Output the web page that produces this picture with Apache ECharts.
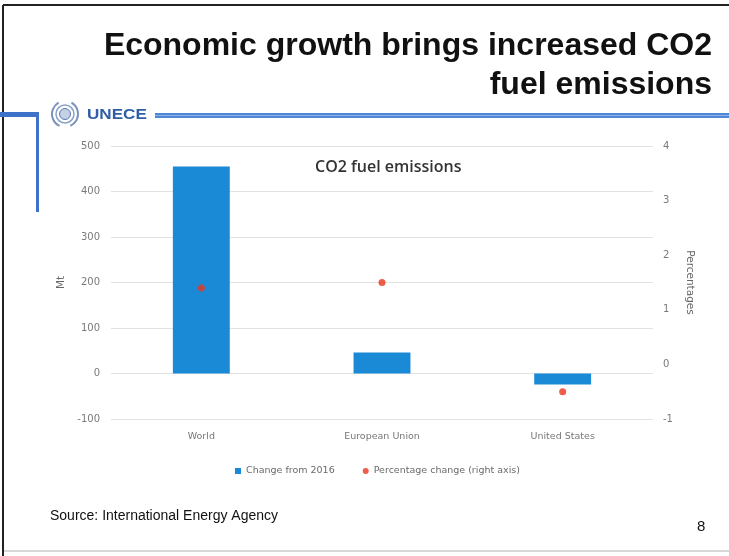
<!DOCTYPE html>
<html><head><meta charset="utf-8">
<script src="https://cdn.jsdelivr.net/npm/echarts@6/dist/echarts.min.js"></script>
<style>html,body{margin:0;padding:0;background:#fff}#c{width:729px;height:556px}</style>
</head><body><div id="c"></div>
<script>
const categories = ['World', 'European Union', 'United States'];
const changeFrom2016 = [455, 46, -24];
const percentageChange = [1.4, 1.5, -0.5];
const leftTicks = {min: -100, max: 500, interval: 100};
const rightTicks = {min: -1, max: 4, interval: 1};

const chart = echarts.init(document.getElementById('c'), null, {renderer: 'canvas'});
const F = '"DejaVu Sans", sans-serif';
chart.setOption({
  backgroundColor: '#fff',
  animation: false,
  grid: {left: 111, right: 76, top: 146, bottom: 137},
  legend: {
    left: 230, top: 461, itemWidth: 6, itemHeight: 6, itemGap: 28,
    textStyle: {fontSize: 9.5, color: '#6a6a6a', fontFamily: F},
    data: [{name: 'Change from 2016', icon: 'rect'}, {name: 'Percentage change (right axis)', icon: 'circle'}]
  },
  xAxis: {
    type: 'category', data: categories,
    axisLine: {show: false}, axisTick: {show: false},
    axisLabel: {fontSize: 9.5, color: '#777', fontFamily: F, margin: 13}
  },
  yAxis: [{
    type: 'value', min: leftTicks.min, max: leftTicks.max, interval: leftTicks.interval,
    name: 'Mt', nameLocation: 'middle', nameGap: 30, nameRotate: 90,
    nameTextStyle: {fontSize: 10.5, color: '#666', fontFamily: F},
    axisLine: {show: false}, axisTick: {show: false},
    axisLabel: {fontSize: 10, color: '#7a7a7a', fontFamily: F, margin: 11},
    splitLine: {lineStyle: {color: '#e2e2e2', width: 1}}
  }, {
    type: 'value', min: rightTicks.min, max: rightTicks.max, interval: rightTicks.interval,
    name: 'Percentages', nameLocation: 'middle', nameGap: 22, nameRotate: -90,
    nameTextStyle: {fontSize: 10.5, color: '#666', fontFamily: F},
    axisLine: {show: false}, axisTick: {show: false},
    axisLabel: {fontSize: 10, color: '#7a7a7a', fontFamily: F, margin: 10},
    splitLine: {show: false}
  }],
  series: [{
    name: 'Change from 2016', type: 'bar', data: changeFrom2016, yAxisIndex: 0,
    barWidth: '31.5%', itemStyle: {color: '#1b8ad6'}
  }, {
    name: 'Percentage change (right axis)', type: 'scatter', data: percentageChange, yAxisIndex: 1,
    symbolSize: 7, itemStyle: {color: '#e8341c'}, z: 5
  }],
  graphic: [
    // slide frame
    {type: 'line', shape: {x1: 3, y1: 5, x2: 729, y2: 5}, style: {stroke: '#222', lineWidth: 2}, silent: true},
    {type: 'line', shape: {x1: 3, y1: 5, x2: 3, y2: 556}, style: {stroke: '#222', lineWidth: 2}, silent: true},
    {type: 'line', shape: {x1: 4, y1: 551, x2: 729, y2: 551}, style: {stroke: '#d8d8d8', lineWidth: 2}, silent: true},
    // slide title
    {type: 'text', right: 17, top: 30, style: {text: 'Economic growth brings increased CO2', font: 'bold 32px "Liberation Sans", Arial, sans-serif', fill: '#111'}},
    {type: 'text', right: 17, top: 69, style: {text: 'fuel emissions', font: 'bold 32px "Liberation Sans", Arial, sans-serif', fill: '#111'}},
    // blue band and logo
    {type: 'rect', shape: {x: 0, y: 112, width: 39, height: 5}, style: {fill: '#3e72c8'}, silent: true},
    {type: 'rect', shape: {x: 36, y: 112, width: 3, height: 100}, style: {fill: '#3e72c8'}, silent: true},
    {type: 'rect', shape: {x: 155, y: 113, width: 574, height: 5}, style: {fill: '#4f86d6'}, silent: true},
    {type: 'line', shape: {x1: 155, y1: 115.5, x2: 729, y2: 115.5}, style: {stroke: '#8fb4ea', lineWidth: 1}, silent: true},
    {type: 'circle', shape: {cx: 65, cy: 114, r: 9}, style: {fill: '#fff', stroke: '#8aa2c8', lineWidth: 1.5}},
    {type: 'circle', shape: {cx: 65, cy: 114, r: 5.5}, style: {fill: '#c3d0e6', stroke: '#5a7ab0', lineWidth: 1}},
    {type: 'arc', shape: {cx: 65, cy: 114, r: 13, startAngle: 2.0, endAngle: 4.2}, style: {stroke: '#7b93bf', lineWidth: 2, fill: null}},
    {type: 'arc', shape: {cx: 65, cy: 114, r: 13, startAngle: -1.05, endAngle: 1.15}, style: {stroke: '#7b93bf', lineWidth: 2, fill: null}},
    {type: 'text', x: 87, y: 115, scaleX: 1.22, style: {text: 'UNECE', font: 'bold 14px "Liberation Sans", Arial, sans-serif', fill: '#2f5ea8', textVerticalAlign: 'middle'}},
    // chart title
    {type: 'text', left: 315, top: 159, style: {text: 'CO2 fuel emissions', font: '600 16px "Open Sans", sans-serif', fill: '#333'}},
    // footer
    {type: 'text', left: 50, top: 509, style: {text: 'Source: International Energy Agency', font: '14px "Liberation Sans", Arial, sans-serif', fill: '#111'}},
    {type: 'text', left: 697, top: 519, style: {text: '8', font: '15px "Liberation Sans", Arial, sans-serif', fill: '#111'}}
  ]
});
</script>
</body></html>
